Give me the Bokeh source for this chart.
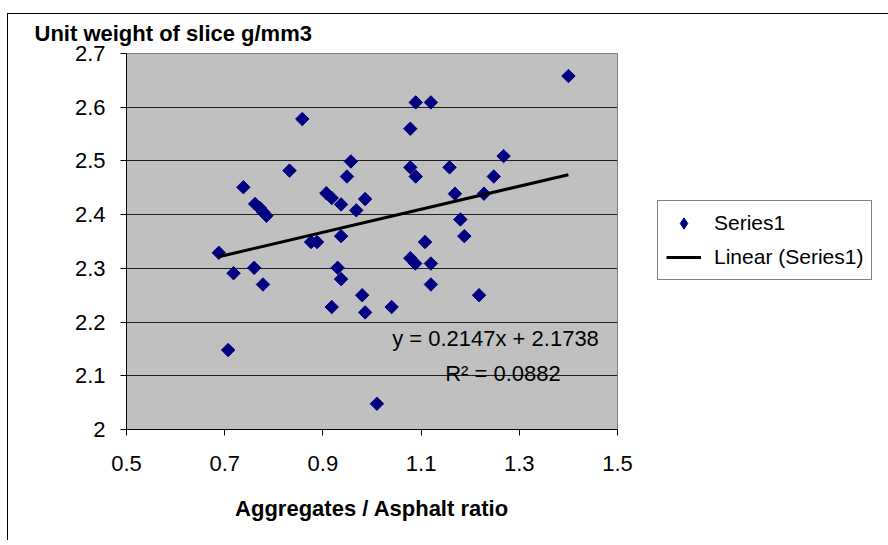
import numpy as np
from bokeh.plotting import figure
from bokeh.models import Label, Legend, LegendItem, FixedTicker
from bokeh.embed import file_html
from bokeh.resources import INLINE

# Data
ratio = [0.688, 0.707, 0.718, 0.738, 0.760, 0.762, 0.772, 0.778, 0.785, 0.778,
         0.832, 0.858, 0.876, 0.888, 0.907, 0.918, 0.918, 0.930, 0.937, 0.937,
         0.937, 0.949, 0.957, 0.968, 0.980, 0.986, 0.986, 1.010, 1.040, 1.078,
         1.078, 1.078, 1.088, 1.089, 1.089, 1.108, 1.120, 1.120, 1.120, 1.158,
         1.169, 1.180, 1.188, 1.218, 1.228, 1.248, 1.268, 1.400]
unit_weight = [2.329, 2.148, 2.291, 2.451, 2.301, 2.420, 2.412, 2.405, 2.398, 2.270,
               2.482, 2.578, 2.349, 2.349, 2.440, 2.431, 2.228, 2.301, 2.419, 2.360,
               2.280, 2.471, 2.499, 2.408, 2.250, 2.429, 2.218, 2.048, 2.228, 2.560,
               2.488, 2.319, 2.309, 2.609, 2.471, 2.349, 2.609, 2.309, 2.270, 2.488,
               2.439, 2.391, 2.360, 2.250, 2.439, 2.471, 2.509, 2.658]
slope = 0.2147
intercept = 2.1738
r_squared = 0.0882

x_ticks = [0.5, 0.7, 0.9, 1.1, 1.3, 1.5]
x_tick_labels = ["0.5", "0.7", "0.9", "1.1", "1.3", "1.5"]
y_ticks = [2.0, 2.1, 2.2, 2.3, 2.4, 2.5, 2.6, 2.7]
y_tick_labels = ["2", "2.1", "2.2", "2.3", "2.4", "2.5", "2.6", "2.7"]

FONT = "Liberation Sans"
NAVY = "#000080"
W, H = 872, 525
OX, OY = 8, 14   # where the canvas starts on the page (after margin + border)

p = figure(frame_width=617 - 126, frame_height=428 - 52,
           x_range=(0.5, 1.5), y_range=(2.0, 2.7),
           output_backend="svg", toolbar_location=None,
           min_border_left=126 - OX, min_border_right=W - (617 - OX),
           min_border_top=52 - OY, min_border_bottom=H - (428 - OY))
p.styles = {"margin-left": "7px", "margin-top": "13px",
            "border-top": "1px solid black", "border-left": "1px solid black"}

p.background_fill_color = "#C0C0C0"
p.border_fill_color = "white"
p.outline_line_color = "#808080"
p.outline_line_width = 1

p.xgrid.visible = False
p.ygrid.ticker = FixedTicker(ticks=y_ticks[1:-1])
p.ygrid.grid_line_color = "#1e1e1e"
p.ygrid.grid_line_width = 1

for ax, ticks, labels in ((p.xaxis[0], x_ticks, x_tick_labels), (p.yaxis[0], y_ticks, y_tick_labels)):
    ax.ticker = FixedTicker(ticks=ticks)
    ax.major_label_overrides = {t: s for t, s in zip(ticks, labels)}
    ax.axis_line_color = "black"
    ax.major_tick_line_color = "black"
    ax.major_tick_in = 0
    ax.major_tick_out = 6
    ax.minor_tick_line_color = None
    ax.major_label_text_font = FONT
    ax.major_label_text_font_size = "22px"
    ax.major_label_text_color = "black"

p.yaxis.major_label_standoff = 15
p.xaxis.major_label_standoff = 20

p.xaxis.axis_label = "Aggregates / Asphalt ratio"
p.xaxis.axis_label_text_font = FONT
p.xaxis.axis_label_text_font_size = "22px"
p.xaxis.axis_label_text_font_style = "bold"
p.xaxis.axis_label_text_color = "black"
p.xaxis.axis_label_standoff = 22

p.title.text = "Unit weight of slice g/mm3"
p.title.text_font = FONT
p.title.text_font_size = "22px"
p.title.text_font_style = "bold"
p.title.text_color = "black"
p.title.align = "left"
p.title.vertical_align = "top"
p.title.offset = -92
p.title.standoff = 12

sc = p.scatter(ratio, unit_weight, marker="square", size=9.5, angle=np.pi / 4,
               fill_color=NAVY, line_color=NAVY)
# legend swatch (diamond shape); its single point is NaN so nothing is drawn in the plot
sc_key = p.scatter(x=np.array([np.nan]), y=np.array([np.nan]), marker="diamond", size=14,
                   fill_color=NAVY, line_color=NAVY)

x_fit = [min(ratio), max(ratio)]
y_fit = [slope * v + intercept for v in x_fit]
ln = p.line(x_fit, y_fit, line_color="black", line_width=3)

p.add_layout(Label(x=1.041, y=2.170, text="y = %.4fx + %.4f" % (slope, intercept),
                   text_font=FONT, text_font_size="22px", text_color="black",
                   text_baseline="middle"))
p.add_layout(Label(x=1.149, y=2.104, text="R² = %.4f" % r_squared,
                   text_font=FONT, text_font_size="22px", text_color="black",
                   text_baseline="middle"))

legend = Legend(items=[LegendItem(label="Series1", renderers=[sc_key]),
                       LegendItem(label="Linear (Series1)", renderers=[ln])],
                location=(40, 149))
legend.border_line_color = "black"
legend.border_line_width = 1
legend.background_fill_color = "white"
legend.background_fill_alpha = 1
legend.label_text_font = FONT
legend.label_text_font_size = "21px"
legend.label_text_color = "black"
legend.glyph_width = 35
legend.glyph_height = 28
legend.label_standoff = 13
legend.spacing = 6
legend.padding = 8
legend.margin = 0
p.add_layout(legend, "right")

open("out.html", "w").write(file_html(p, INLINE))
